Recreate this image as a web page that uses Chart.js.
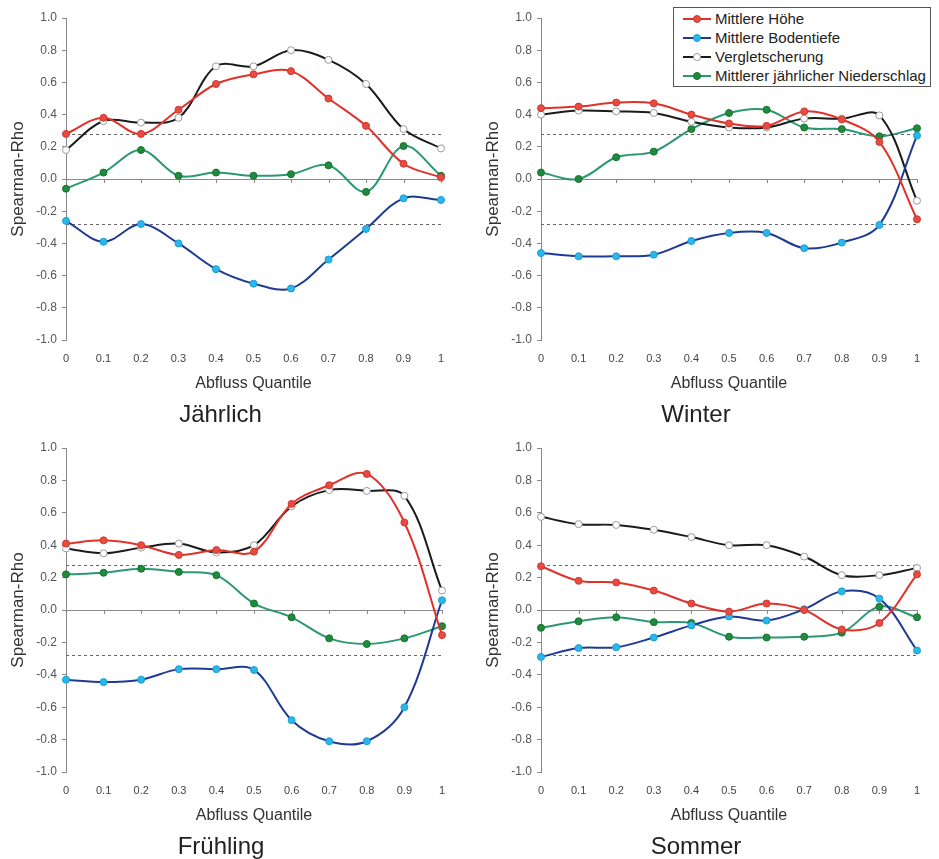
<!DOCTYPE html>
<html>
<head>
<meta charset="utf-8">
<script src="https://cdn.jsdelivr.net/npm/chart.js@4.4.0/dist/chart.umd.min.js"></script>
<style>
  body { margin: 0; background: #fff; overflow: hidden; }
  #wrap { position: relative; width: 939px; height: 859px; overflow: hidden; }
  canvas { position: absolute; }
  #legend {
    position: absolute; left: 673px; top: 7px; width: 256px; height: 77px;
    border: 1px solid #555; background: #fff; padding-top: 1px;
    font: 15px "Liberation Sans", Arial, sans-serif; color: #222;
  }
  #legend div { height: 19px; display: flex; align-items: center; padding-left: 9px; white-space: nowrap; }
  #legend svg { margin-right: 4px; }
</style>
</head>
<body>
<div id="wrap">
  <canvas id="c1" width="470" height="430" style="left:0;top:0"></canvas>
  <canvas id="c2" width="464" height="430" style="left:475px;top:0"></canvas>
  <canvas id="c3" width="470" height="432" style="left:0;top:430px"></canvas>
  <canvas id="c4" width="464" height="432" style="left:475px;top:430px"></canvas>
  <div id="legend"></div>
</div>
<script>
// Abfluss-Quantile (x-Achse)
const quantiles = ["0", "0.1", "0.2", "0.3", "0.4", "0.5", "0.6", "0.7", "0.8", "0.9", "1"];

const seriesNames = ["Mittlere Höhe", "Mittlere Bodentiefe", "Vergletscherung", "Mittlerer jährlicher Niederschlag"];
const lineColors = ["#e2312b", "#1f3a92", "#1b1b1b", "#2b9874"];
const markerColors = ["#ea4a3f", "#2ab7ec", "#ffffff", "#1f8c3d"];
const markerBorders = ["#c93a30", "#1a9ed0", "#9a9a9a", "#18702f"];

// Signifikanzgrenze (gestrichelte Linien)
const significance = 0.28;

// Jährlich
const jahrHoehe = [0.28, 0.38, 0.28, 0.43, 0.59, 0.65, 0.67, 0.50, 0.33, 0.095, 0.01];
const jahrBoden = [-0.26, -0.39, -0.28, -0.40, -0.56, -0.65, -0.68, -0.50, -0.31, -0.12, -0.13];
const jahrGletscher = [0.18, 0.36, 0.35, 0.38, 0.70, 0.70, 0.80, 0.74, 0.59, 0.31, 0.19];
const jahrNiederschlag = [-0.06, 0.04, 0.18, 0.02, 0.04, 0.02, 0.03, 0.085, -0.08, 0.205, 0.02];

// Winter
const winterHoehe = [0.44, 0.45, 0.475, 0.47, 0.40, 0.345, 0.33, 0.42, 0.37, 0.23, -0.25];
const winterBoden = [-0.46, -0.48, -0.48, -0.47, -0.385, -0.335, -0.335, -0.43, -0.395, -0.285, 0.27];
const winterGletscher = [0.40, 0.425, 0.42, 0.41, 0.355, 0.32, 0.32, 0.375, 0.375, 0.395, -0.135];
const winterNiederschlag = [0.04, 0.0, 0.135, 0.17, 0.31, 0.41, 0.43, 0.32, 0.31, 0.265, 0.315];

// Frühling
const fruehHoehe = [0.41, 0.43, 0.40, 0.34, 0.37, 0.36, 0.655, 0.77, 0.84, 0.54, -0.155];
const fruehBoden = [-0.43, -0.445, -0.43, -0.365, -0.365, -0.37, -0.68, -0.81, -0.81, -0.60, 0.06];
const fruehGletscher = [0.38, 0.35, 0.385, 0.41, 0.355, 0.40, 0.64, 0.74, 0.735, 0.705, 0.12];
const fruehNiederschlag = [0.22, 0.23, 0.255, 0.235, 0.215, 0.04, -0.045, -0.175, -0.21, -0.175, -0.10];

// Sommer
const sommerHoehe = [0.27, 0.18, 0.17, 0.12, 0.04, -0.01, 0.04, 0.0, -0.12, -0.08, 0.22];
const sommerBoden = [-0.29, -0.235, -0.23, -0.17, -0.095, -0.04, -0.065, 0.005, 0.115, 0.07, -0.25];
const sommerGletscher = [0.575, 0.53, 0.525, 0.495, 0.45, 0.40, 0.40, 0.33, 0.215, 0.215, 0.26];
const sommerNiederschlag = [-0.11, -0.07, -0.045, -0.075, -0.08, -0.165, -0.17, -0.165, -0.14, 0.02, -0.045];

Chart.defaults.font.family = '"Liberation Sans", Arial, Helvetica, sans-serif';
Chart.defaults.color = "#444";

// gestrichelte Signifikanzlinien + Tickmarken an der Nulllinie
const refLines = {
  id: "refLines",
  beforeDatasetsDraw(chart) {
    const { ctx, chartArea, scales: { x, y } } = chart;
    ctx.save();
    ctx.lineWidth = 1;
    ctx.strokeStyle = "#666";
    ctx.setLineDash([3, 3]);
    [significance, -significance].forEach(v => {
      const py = Math.round(y.getPixelForValue(v)) + 0.5;
      ctx.beginPath();
      ctx.moveTo(chartArea.left, py);
      ctx.lineTo(chartArea.right, py);
      ctx.stroke();
    });
    ctx.setLineDash([]);
    ctx.strokeStyle = "#888";
    const y0 = Math.round(y.getPixelForValue(0));
    x.ticks.forEach((t, i) => {
      const px = Math.round(x.getPixelForTick(i)) + 0.5;
      ctx.beginPath();
      ctx.moveTo(px, y0);
      ctx.lineTo(px, y0 + 4);
      ctx.stroke();
    });
    ctx.restore();
  }
};

function makeChart(id, title, values, padRight) {
  new Chart(document.getElementById(id), {
    type: "line",
    data: {
      labels: quantiles,
      datasets: seriesNames.map((name, i) => ({
        label: name,
        data: values[i],
        borderColor: lineColors[i],
        borderWidth: 2,
        pointBackgroundColor: markerColors[i],
        pointBorderColor: markerBorders[i],
        pointBorderWidth: 1,
        pointRadius: 3.5,
        tension: 0.35,
      })),
    },
    options: {
      responsive: false,
      animation: false,
      layout: { padding: { left: 0, right: padRight, top: 18, bottom: 0.6 } },
      plugins: {
        legend: { display: false },
        tooltip: { enabled: false },
        title: {
          display: true,
          text: title,
          position: "bottom",
          color: "#222",
          font: { size: 24, weight: "normal" },
          padding: { top: 3, bottom: 0 },
        },
      },
      scales: {
        x: {
          grid: { display: false, drawTicks: false },
          border: { display: false },
          ticks: { padding: 12, font: { size: 11 }, maxRotation: 0, autoSkip: false },
          title: { display: true, text: "Abfluss Quantile", color: "#333", font: { size: 16 }, padding: { top: 4, bottom: 4 } },
          afterFit: (scale) => { scale.height = 57.6; },
        },
        y: {
          min: -1,
          max: 1,
          ticks: {
            stepSize: 0.2,
            padding: 5,
            color: "#555",
            font: { size: 12 },
            callback: (v) => (Math.abs(v) < 1e-9 ? 0 : v).toFixed(1),
          },
          grid: {
            color: (c) => (c.tick && Math.abs(c.tick.value) < 1e-9 ? "#8a8a8a" : "rgba(0,0,0,0)"),
            tickColor: "#888",
            tickLength: 4,
          },
          border: { display: true, color: "#888" },
          title: { display: true, text: "Spearman-Rho", color: "#333", font: { size: 17 }, padding: { top: 8, bottom: 0 } },
          afterFit: (scale) => { scale.width = 66; },
        },
      },
    },
    plugins: [refLines],
  });
}

makeChart("c1", "Jährlich", [jahrHoehe, jahrBoden, jahrGletscher, jahrNiederschlag], 29);
makeChart("c2", "Winter", [winterHoehe, winterBoden, winterGletscher, winterNiederschlag], 22);
makeChart("c3", "Frühling", [fruehHoehe, fruehBoden, fruehGletscher, fruehNiederschlag], 28);
makeChart("c4", "Sommer", [sommerHoehe, sommerBoden, sommerGletscher, sommerNiederschlag], 22);

// Legende (nur im Winter-Panel)
const legendEl = document.getElementById("legend");
seriesNames.forEach((name, i) => {
  const row = document.createElement("div");
  row.innerHTML =
    '<svg width="28" height="10"><line x1="0" y1="5" x2="28" y2="5" stroke="' + lineColors[i] + '" stroke-width="2"/>' +
    '<circle cx="14" cy="5" r="3.5" fill="' + markerColors[i] + '" stroke="' + markerBorders[i] + '" stroke-width="1"/></svg>';
  row.appendChild(document.createTextNode(name));
  legendEl.appendChild(row);
});
</script>
</body>
</html>
